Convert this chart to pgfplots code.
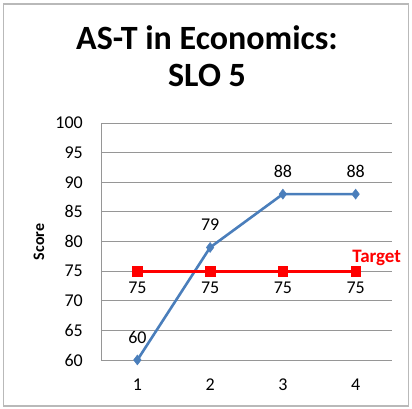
\documentclass[border=0pt]{standalone}
\usepackage{fontspec}
\setmainfont{Carlito}
\usepackage{pgfplots}
\pgfplotsset{compat=1.18}
\definecolor{exblue}{RGB}{74,126,187}
\definecolor{gridgray}{RGB}{150,150,150}
\definecolor{bordergray}{RGB}{185,185,185}
\newcommand{\lblfont}{\fontsize{18}{21}\selectfont}
\begin{document}
\begin{tikzpicture}[x=1pt,y=1pt]
\useasboundingbox (0,0) rectangle (412,409);
\draw[bordergray, line width=1.3pt] (3.5,3) rectangle (408.5,405);
\node[font=\fontsize{34}{37}\selectfont\bfseries, anchor=base] at (207,359) {AS-T in Economics:};
\node[font=\fontsize{34}{37}\selectfont\bfseries, anchor=base] at (207,322) {SLO 5};
\begin{axis}[
  at={(101pt,49pt)}, anchor=south west, scale only axis,
  width=291pt, height=237pt,
  xmin=0.5, xmax=4.5, ymin=60, ymax=100,
  xtick={1,2,3,4}, ytick={60,65,...,100},
  ymajorgrids, grid style={gridgray, line width=0.9pt},
  axis lines*=left, axis line style={gridgray, line width=0.9pt, -},
  major tick length=0pt,
  /pgf/number format/assume math mode=true,
  xticklabel={\lblfont\pgfmathprintnumber{\tick}},
  yticklabel={\lblfont\pgfmathprintnumber{\tick}},
  tick label style={inner sep=0pt},
  yticklabel style={anchor=east, xshift=-18pt},
  xticklabel style={anchor=north, yshift=-19pt},
  ylabel={Score},
  ylabel style={font=\fontsize{16}{19}\selectfont\bfseries, at={(axis description cs:-0.213,0.498)}, anchor=center},
  nodes near coords={\lblfont\pgfmathprintnumber{\pgfplotspointmeta}},
  every node near coord/.append style={inner sep=0pt, anchor=center, /pgf/number format/assume math mode=true},
  clip=false,
]
\addplot[color=exblue, line width=2.6pt, mark=diamond*, mark size=5pt, mark options={solid, fill=exblue, line width=0.5pt},
  every node near coord/.append style={yshift=23pt, black}]
  coordinates {(1,60) (2,79) (3,88) (4,88)};
\addplot[color=red, line width=2.8pt, mark=square*, mark size=4.7pt, mark options={solid, fill=red, line width=0.5pt},
  every node near coord/.append style={yshift=-17pt, black}]
  coordinates {(1,75) (2,75) (3,75) (4,75)};
\node[font=\fontsize{19}{22}\selectfont\bfseries, text=red, inner sep=0pt, anchor=base] at (axis cs:4,75) [xshift=21pt, yshift=9pt] {Target};
\end{axis}
\end{tikzpicture}
\end{document}
